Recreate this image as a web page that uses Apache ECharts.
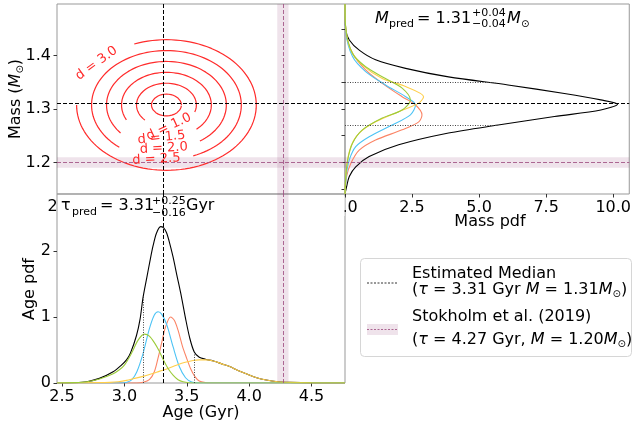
<!DOCTYPE html>
<html>
<head>
<meta charset="utf-8">
<script src="https://cdn.jsdelivr.net/npm/echarts@6/dist/echarts.min.js"></script>
<style>html,body{margin:0;padding:0;background:#fff}#main{width:634px;height:428px}</style>
</head>
<body>
<div id="main"></div>
<script>
const FONT = 'DejaVu Sans';

// axis ranges
const ageRange = [2.46, 4.768];
const massRange = [1.1411, 1.4963];
const agePdfRange = [0, 2.864];
const massPdfRange = [0, 10.6];

// tick labels
const ageTicks = [2.5, 3.0, 3.5, 4.0, 4.5];
const massTicks = [1.2, 1.3, 1.4];
const massMinorTicks = [1.15, 1.2, 1.25, 1.3, 1.35, 1.4, 1.45];
const agePdfTicks = [0, 1, 2];
const massPdfTicks = [0, 2.5, 5, 7.5, 10];

// estimates
const medianAge = 3.31, medianMass = 1.31;
const ageLo = 3.15, ageHi = 3.56, ageLoPdf = 1.31, ageHiPdf = 0.45;
const massLo = 1.27, massHi = 1.35, massLoPdf = 5.7, massHiPdf = 5.6;
const stokAge = 4.27, stokMass = 1.20;
const stokAgeBand = [4.225, 4.315], stokMassBand = [1.19, 1.21];

// distance contours
const contourLevels = [0.5, 1.0, 1.5, 2.0, 2.5, 3.0];
const contourGapFrom = [null, -136, -153, -138, -127, 113];
const contourGapTo = [null, -19, -48, -56, -69, 180];
const contourCentre = [3.337, 1.3075];
const contourUnit = [0.24, 0.0407];
const contourLabels = ['d = 1.0', 'd = 1.5', 'd = 2.0', 'd = 2.5', 'd = 3.0'];
const contourLabelPos = [[3.356, 1.2664], [3.297, 1.2464], [3.316, 1.2265], [3.257, 1.206], [2.777, 1.3854]];
const contourLabelRot = [25, 6, 3, 3, 36];

// mass pdf: [pdf, mass]
const massBlack = [[0,1.4963],[0.03,1.448],[0.16,1.429],[0.53,1.410],[1.14,1.392],[2.26,1.376],[3.86,1.360],[6.08,1.345],[8.18,1.329],[9.54,1.317],[10.16,1.309],[9.54,1.298],[7.81,1.286],[5.71,1.270],[3.86,1.255],[2.0,1.233],[0.9,1.211],[0.4,1.192],[0.16,1.174],[0.06,1.155],[0,1.1411]];
const massOrange = [[0,1.4963],[0.03,1.445],[0.28,1.404],[0.77,1.373],[1.39,1.348],[2.13,1.323],[2.63,1.3075],[2.87,1.289],[2.75,1.276],[2.13,1.261],[1.14,1.242],[0.53,1.223],[0.22,1.1985],[0.06,1.174],[0,1.1411]];
const massBlue = [[0,1.4963],[0.03,1.445],[0.28,1.398],[0.77,1.370],[1.51,1.345],[2.26,1.323],[2.63,1.3075],[2.44,1.289],[1.76,1.270],[0.9,1.248],[0.4,1.2295],[0.16,1.205],[0.06,1.18],[0,1.1411]];
const massYellow = [[0,1.4963],[0.03,1.45],[0.22,1.410],[0.65,1.382],[1.39,1.357],[2.26,1.342],[2.93,1.323],[2.75,1.311],[2.0,1.295],[1.14,1.276],[0.53,1.255],[0.22,1.23],[0.06,1.192],[0,1.1411]];
const massGreen = [[0,1.4963],[0.03,1.45],[0.28,1.404],[0.77,1.379],[1.51,1.357],[2.13,1.339],[2.44,1.317],[2.13,1.298],[1.39,1.283],[0.65,1.261],[0.28,1.236],[0.1,1.205],[0.03,1.174],[0,1.1411]];

// age pdf: [age, pdf]
const ageBlack = [[2.46,0],[2.6,0.005],[2.7,0.02],[2.8,0.07],[2.91,0.17],[2.97,0.26],[3.017,0.35],[3.05,0.46],[3.097,0.72],[3.125,0.96],[3.15,1.30],[3.18,1.60],[3.204,1.84],[3.23,2.08],[3.257,2.27],[3.29,2.37],[3.315,2.35],[3.337,2.28],[3.36,2.14],[3.39,1.91],[3.42,1.64],[3.457,1.31],[3.49,0.98],[3.524,0.68],[3.56,0.47],[3.6,0.39],[3.65,0.36],[3.72,0.33],[3.78,0.29],[3.844,0.25],[3.91,0.19],[3.977,0.14],[4.06,0.08],[4.137,0.045],[4.23,0.02],[4.324,0.01],[4.5,0.002],[4.768,0]];
const ageOrange = [[2.46,0],[3.1,0],[3.15,0.01],[3.2,0.05],[3.24,0.17],[3.27,0.38],[3.3,0.62],[3.33,0.85],[3.37,1.0],[3.40,0.95],[3.43,0.80],[3.465,0.56],[3.5,0.37],[3.53,0.22],[3.564,0.10],[3.6,0.03],[3.65,0.005],[3.7,0],[4.768,0]];
const ageBlue = [[2.46,0],[2.97,0],[3.02,0.01],[3.06,0.05],[3.1,0.17],[3.15,0.45],[3.2,0.82],[3.24,1.03],[3.27,1.08],[3.30,1.04],[3.34,0.88],[3.39,0.55],[3.44,0.25],[3.49,0.08],[3.54,0.015],[3.6,0],[4.768,0]];
const ageYellow = [[2.46,0],[2.8,0.005],[2.884,0.01],[2.95,0.02],[3.017,0.04],[3.08,0.07],[3.15,0.10],[3.22,0.14],[3.284,0.18],[3.35,0.22],[3.417,0.27],[3.48,0.31],[3.55,0.34],[3.6,0.35],[3.657,0.35],[3.72,0.33],[3.78,0.29],[3.844,0.25],[3.91,0.19],[3.977,0.14],[4.06,0.08],[4.137,0.045],[4.23,0.02],[4.324,0.01],[4.5,0.002],[4.768,0]];
const ageGreen = [[2.46,0],[2.6,0.005],[2.7,0.02],[2.8,0.06],[2.91,0.14],[2.96,0.20],[3.0,0.27],[3.057,0.45],[3.11,0.65],[3.16,0.74],[3.2,0.71],[3.244,0.60],[3.28,0.48],[3.31,0.36],[3.35,0.22],[3.39,0.12],[3.43,0.05],[3.47,0.02],[3.55,0],[4.768,0]];

const C = { black: '#000', orange: '#fb8465', blue: '#4cc3f5', yellow: '#ffcf4a', green: '#9ccc3a', red: '#ff2b2b' };
const stokBand = 'rgba(140,60,110,0.14)';
const stokLine = { color: 'rgba(160,80,130,0.85)', type: [4, 2], width: 1 };
const medLine = { color: '#000', type: [4, 2], width: 1 };
const dotLine = { color: '#444', type: [1, 1.5], width: 1 };

function contourPoints(i) {
  const d = contourLevels[i];
  let a0 = 0, a1 = 360;
  if (contourGapFrom[i] !== null) { a0 = contourGapTo[i]; a1 = contourGapFrom[i] + 360; }
  const pts = [];
  for (let a = a0; a <= a1 + 0.01; a += 3) {
    const t = a * Math.PI / 180;
    pts.push([contourCentre[0] + d * contourUnit[0] * Math.cos(t), contourCentre[1] + d * contourUnit[1] * Math.sin(t)]);
  }
  return pts;
}

const tickStyle = { length: 3.5, lineStyle: { color: '#333', width: 1 } };
const labelStyle = { fontSize: 16, color: '#000', fontFamily: FONT, margin: 6 };
const hidden = { axisLine: { show: false }, splitLine: { show: false } };

function curve(name, data, color, xi) {
  return { name, type: 'line', xAxisIndex: xi, yAxisIndex: xi, data, showSymbol: false, symbol: 'none',
    smooth: 0.3, lineStyle: { color, width: 1.1 }, silent: true, animation: false };
}

const series = [];
contourLevels.forEach((d, i) => {
  series.push({ type: 'line', xAxisIndex: 0, yAxisIndex: 0, data: contourPoints(i), showSymbol: false, symbol: 'none',
    lineStyle: { color: C.red, width: 1.2 }, silent: true, animation: false });
});
series[0].markArea = { silent: true, itemStyle: { color: stokBand }, data: [
  [{ xAxis: stokAgeBand[0] }, { xAxis: stokAgeBand[1] }],
  [{ yAxis: stokMassBand[0] }, { yAxis: stokMassBand[1] }]
] };
series[0].markLine = { silent: true, symbol: 'none', label: { show: false }, animation: false, data: [
  { xAxis: stokAge, lineStyle: stokLine }, { yAxis: stokMass, lineStyle: stokLine },
  { xAxis: medianAge, lineStyle: medLine }, { yAxis: medianMass, lineStyle: medLine }
] };

const mb = curve('mass', massBlack, C.black, 1);
mb.markArea = { silent: true, itemStyle: { color: stokBand }, data: [[{ yAxis: stokMassBand[0] }, { yAxis: stokMassBand[1] }]] };
mb.markLine = { silent: true, symbol: 'none', label: { show: false }, animation: false, data: [
  { yAxis: stokMass, lineStyle: stokLine }, { yAxis: medianMass, lineStyle: medLine },
  [{ coord: [0, massHi], lineStyle: dotLine }, { coord: [massHiPdf, massHi] }],
  [{ coord: [0, massLo], lineStyle: dotLine }, { coord: [massLoPdf, massLo] }]
] };
series.push(mb,
  curve('mo', massOrange, C.orange, 1), curve('mbl', massBlue, C.blue, 1),
  curve('my', massYellow, C.yellow, 1), curve('mg', massGreen, C.green, 1));

const ab = curve('age', ageBlack, C.black, 2);
ab.markArea = { silent: true, itemStyle: { color: stokBand }, data: [[{ xAxis: stokAgeBand[0] }, { xAxis: stokAgeBand[1] }]] };
ab.markLine = { silent: true, symbol: 'none', label: { show: false }, animation: false, data: [
  { xAxis: stokAge, lineStyle: stokLine }, { xAxis: medianAge, lineStyle: medLine },
  [{ coord: [ageLo, 0], lineStyle: dotLine }, { coord: [ageLo, ageLoPdf] }],
  [{ coord: [ageHi, 0], lineStyle: dotLine }, { coord: [ageHi, ageHiPdf] }]
] };
series.push(ab,
  curve('ao', ageOrange, C.orange, 2), curve('abl', ageBlue, C.blue, 2),
  curve('ay', ageYellow, C.yellow, 2), curve('ag', ageGreen, C.green, 2));

const chart = echarts.init(document.getElementById('main'), null, { renderer: 'canvas' });
const gridBase = { show: true, borderColor: '#999', borderWidth: 1, backgroundColor: 'transparent', containLabel: false };
chart.setOption({
  animation: false,
  backgroundColor: '#fff',
  grid: [
    Object.assign({ left: 57, top: 4, width: 288, height: 190 }, gridBase),
    Object.assign({ left: 345, top: 4, width: 287, height: 190 }, gridBase),
    Object.assign({ left: 57, top: 194, width: 288, height: 189 }, gridBase)
  ],
  xAxis: [
    Object.assign({ gridIndex: 0, type: 'value', min: ageRange[0], max: ageRange[1], axisTick: { show: false }, axisLabel: { show: false } }, hidden),
    Object.assign({ gridIndex: 1, type: 'value', min: massPdfRange[0], max: massPdfRange[1],
      axisTick: Object.assign({ customValues: massPdfTicks }, tickStyle),
      axisLabel: Object.assign({ customValues: massPdfTicks, formatter: v => v.toFixed(1) }, labelStyle) }, hidden),
    Object.assign({ gridIndex: 2, type: 'value', min: ageRange[0], max: ageRange[1],
      axisTick: Object.assign({ customValues: ageTicks }, tickStyle),
      axisLabel: Object.assign({ customValues: ageTicks, formatter: v => v.toFixed(1) }, labelStyle) }, hidden)
  ],
  yAxis: [
    Object.assign({ gridIndex: 0, type: 'value', min: massRange[0], max: massRange[1],
      axisTick: Object.assign({ customValues: massTicks }, tickStyle),
      axisLabel: Object.assign({ customValues: massTicks, formatter: v => v.toFixed(1) }, labelStyle) }, hidden),
    Object.assign({ gridIndex: 1, type: 'value', min: massRange[0], max: massRange[1],
      axisTick: Object.assign({ customValues: massMinorTicks }, tickStyle), axisLabel: { show: false } }, hidden),
    Object.assign({ gridIndex: 2, type: 'value', min: agePdfRange[0], max: agePdfRange[1],
      axisTick: Object.assign({ customValues: agePdfTicks }, tickStyle),
      axisLabel: Object.assign({ customValues: agePdfTicks, formatter: v => String(v) }, labelStyle) }, hidden)
  ],
  series
});

// text and annotations
function T(x, y, text, size, opts) {
  return Object.assign({ type: 'text', x, y, z: 50, silent: true,
    style: Object.assign({ text, fontSize: size, fontFamily: FONT, fill: '#000', textVerticalAlign: 'middle' }, (opts && opts.style) || {}) },
    opts ? { rotation: opts.rotation || 0 } : {});
}
const graphics = [];
contourLabels.forEach((s, i) => {
  const p = chart.convertToPixel({ gridIndex: 0 }, contourLabelPos[i]);
  graphics.push(T(p[0], p[1], s, 13, { rotation: contourLabelRot[i] * Math.PI / 180, style: { fill: C.red, textAlign: 'center' } }));
});
const it = { fontStyle: 'italic' };
// M_pred
graphics.push(T(375, 19, 'M', 16, { style: it }), T(389, 24, 'pred', 11), T(417, 19, '= 1.31', 16),
  T(472, 13, '+0.04', 11), T(472, 24, '\u22120.04', 11), T(507, 19, 'M', 16, { style: it }), T(521, 24, '\u2299', 10));
// tau_pred
graphics.push(T(61, 206, '\u03c4', 16), T(72, 212, 'pred', 11), T(100, 206, '= 3.31', 16),
  T(152, 201, '+0.25', 11), T(152, 213, '\u22120.16', 11), T(186, 206, 'Gyr', 16));
// axis names
graphics.push(
  { type: 'text', x: 16, y: 99, rotation: Math.PI / 2, z: 50, silent: true, style: { text: '{n|Mass (}{i|M}{s|\u2299}{n|)}', textAlign: 'center', textVerticalAlign: 'middle', fontFamily: FONT,
    rich: { n: { fontSize: 16, fontFamily: FONT }, i: { fontSize: 16, fontStyle: 'italic', fontFamily: FONT }, s: { fontSize: 10, fontFamily: FONT, padding: [8, 0, 0, 0] } } } },
  T(30, 289, 'Age pdf', 16, { rotation: Math.PI / 2, style: { textAlign: 'center' } }),
  T(201, 413, 'Age (Gyr)', 16, { style: { textAlign: 'center' } }),
  T(490, 222, 'Mass pdf', 16, { style: { textAlign: 'center' } })
);
// hidden tick label fragments
graphics.push({ type: 'rect', z: 60, silent: true, shape: { x: 328, y: 196, width: 16.5, height: 20 }, style: { fill: '#fff' } });
graphics.push(T(47.5, 207, '2', 16, {}), { type: 'rect', z: 60, silent: true, shape: { x: 58, y: 198, width: 3, height: 16 }, style: { fill: '#fff' } });
// legend
graphics.push({ type: 'rect', z: 40, silent: true, shape: { x: 360.5, y: 258.5, width: 271, height: 98, r: 4 }, style: { fill: '#fff', stroke: '#d6d6d6', lineWidth: 1 } });
graphics.push({ type: 'line', z: 45, silent: true, shape: { x1: 367, y1: 283, x2: 398, y2: 283 }, style: { stroke: '#333', lineWidth: 1, lineDash: [2, 1.5] } });
graphics.push({ type: 'rect', z: 45, silent: true, shape: { x: 367, y: 324, width: 31, height: 11 }, style: { fill: stokBand } });
graphics.push({ type: 'line', z: 46, silent: true, shape: { x1: 367, y1: 329.5, x2: 398, y2: 329.5 }, style: { stroke: stokLine.color, lineWidth: 1, lineDash: [2, 1.5] } });
const legRich = { n: { fontSize: 16, fontFamily: FONT }, i: { fontSize: 16, fontStyle: 'italic', fontFamily: FONT }, s: { fontSize: 10, fontFamily: FONT, padding: [8, 0, 0, 0] } };
graphics.push(T(412, 274, 'Estimated Median', 16),
  { type: 'text', x: 412, y: 290, z: 50, silent: true, style: { text: '{n|(}{i|\u03c4}{n| = 3.31 Gyr }{i|M}{n| = 1.31}{i|M}{s|\u2299}{n|)}', textVerticalAlign: 'middle', fontFamily: FONT, rich: legRich } },
  T(412, 317, 'Stokholm et al. (2019)', 16),
  { type: 'text', x: 412, y: 340, z: 50, silent: true, style: { text: '{n|(}{i|\u03c4}{n| = 4.27 Gyr, }{i|M}{n| = 1.20}{i|M}{s|\u2299}{n|)}', textVerticalAlign: 'middle', fontFamily: FONT, rich: legRich } }
);
chart.setOption({ graphic: graphics });
</script>
</body>
</html>
